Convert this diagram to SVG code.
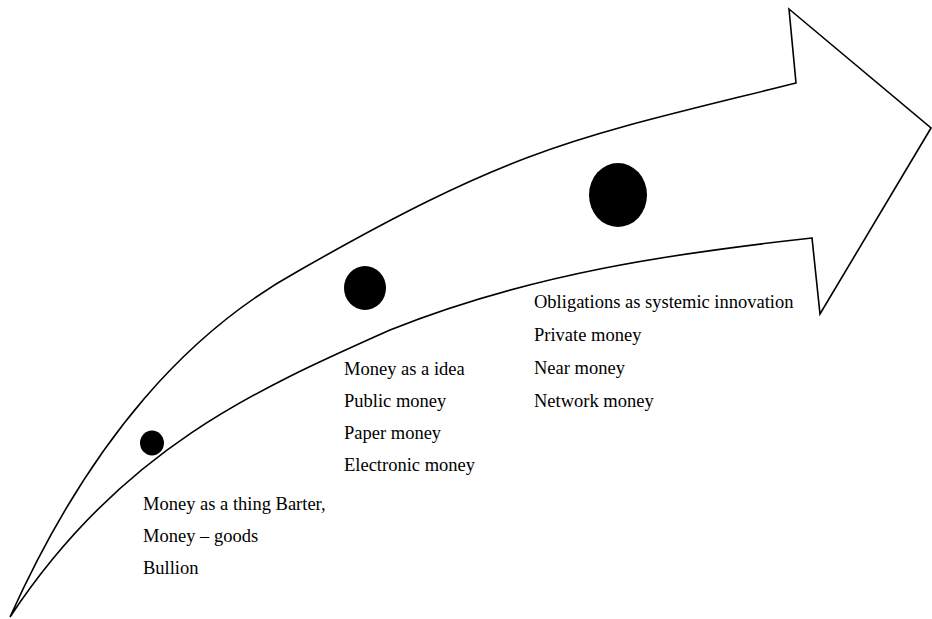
<svg xmlns="http://www.w3.org/2000/svg" width="932" height="619" viewBox="0 0 932 619">
<style>
.arrow{fill:#fff;stroke:#000;stroke-width:1.6;stroke-linejoin:miter}
.dot{fill:#000}
.lbl{font-family:"Liberation Serif","Times New Roman",serif;font-size:18.5px;fill:#000}
</style>
<rect width="932" height="619" fill="#fff"/>
<g id="connectors">
<path class="arrow" d="M10,617 C91,437 190,330.5 300,270 C520,144.6 576,138 796,83 L789,9 L931,128 L820,314 L812,238 C672,253.4 530,274 390,330 C255,390 120,450 10,617 Z"/>
</g>
<g id="stage1">
<ellipse class="dot" cx="152" cy="443" rx="12" ry="12.5"/>
<text class="lbl" x="143" y="510">Money as a thing Barter,</text>
<text class="lbl" x="143" y="542">Money – goods</text>
<text class="lbl" x="143" y="574">Bullion</text>
</g>
<g id="stage2">
<ellipse class="dot" cx="365" cy="288" rx="21" ry="22"/>
<text class="lbl" x="344" y="375">Money as a idea</text>
<text class="lbl" x="344" y="407">Public money</text>
<text class="lbl" x="344" y="439">Paper money</text>
<text class="lbl" x="344" y="471">Electronic money</text>
</g>
<g id="stage3">
<ellipse class="dot" cx="618" cy="195" rx="29" ry="32"/>
<text class="lbl" x="534" y="308">Obligations as systemic innovation</text>
<text class="lbl" x="534" y="341">Private money</text>
<text class="lbl" x="534" y="374">Near money</text>
<text class="lbl" x="534" y="407">Network money</text>
</g>
</svg>
